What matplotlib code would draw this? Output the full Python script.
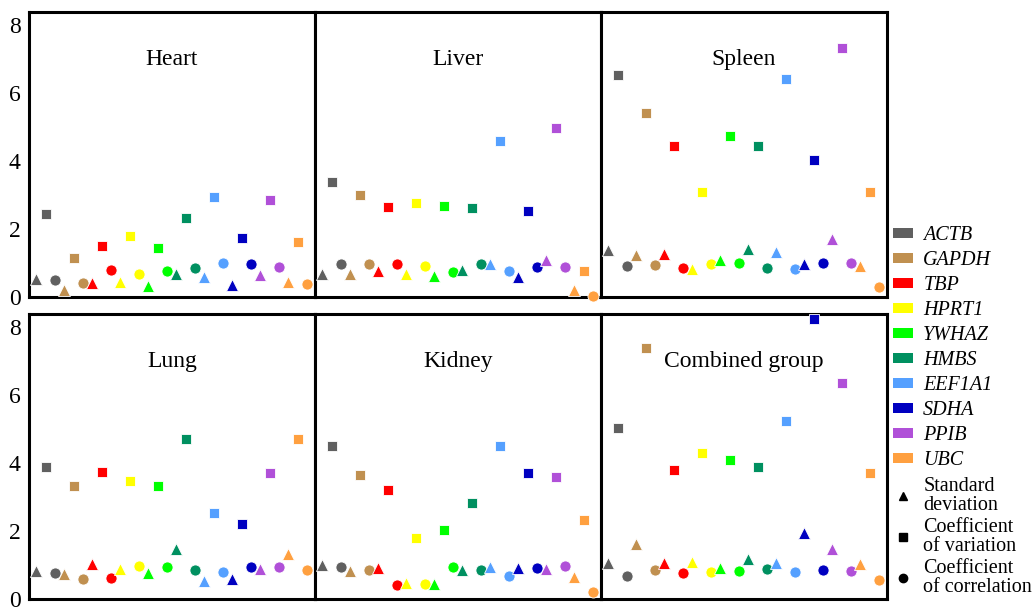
import matplotlib
matplotlib.use("Agg")
import matplotlib.pyplot as plt
from matplotlib.patches import Patch
from matplotlib.lines import Line2D
import numpy as np

plt.rcParams['font.family'] = ['Liberation Serif', 'DejaVu Serif']

genes = ["ACTB", "GAPDH", "TBP", "HPRT1", "YWHAZ", "HMBS", "EEF1A1", "SDHA", "PPIB", "UBC"]
colors = ["#606060", "#C09050", "#FF0000", "#FFFF00", "#00FF00",
          "#009060", "#55A0FF", "#0000C0", "#B050D8", "#FFA040"]
panels = ["Heart", "Liver", "Spleen", "Lung", "Kidney", "Combined group"]
stat_labels = ["Standard\ndeviation", "Coefficient\nof variation", "Coefficient\nof correlation"]

# Standard deviation (triangles)
sd = {
    "Heart":  [0.52, 0.21, 0.42, 0.44, 0.32, 0.67, 0.60, 0.36, 0.65, 0.43],
    "Liver":  [0.68, 0.68, 0.76, 0.67, 0.62, 0.78, 0.96, 0.58, 1.09, 0.21],
    "Spleen": [1.38, 1.24, 1.25, 0.82, 1.09, 1.40, 1.32, 0.98, 1.70, 0.92],
    "Lung":   [0.82, 0.73, 1.04, 0.88, 0.75, 1.46, 0.52, 0.58, 0.88, 1.33],
    "Kidney": [1.00, 0.83, 0.91, 0.48, 0.43, 0.86, 0.94, 0.90, 0.87, 0.65],
    "Combined group": [1.06, 1.63, 1.05, 1.10, 0.91, 1.17, 1.07, 1.95, 1.46, 1.04],
}
# Coefficient of variation (squares)
cv = {
    "Heart":  [2.43, 1.14, 1.50, 1.79, 1.43, 2.31, 2.95, 1.74, 2.84, 1.61],
    "Liver":  [3.39, 3.00, 2.65, 2.77, 2.69, 2.61, 4.59, 2.52, 4.98, 0.75],
    "Spleen": [6.54, 5.40, 4.45, 3.09, 4.73, 4.45, 6.42, 4.02, 7.32, 3.08],
    "Lung":   [3.89, 3.32, 3.73, 3.47, 3.32, 4.71, 2.52, 2.21, 3.70, 4.70],
    "Kidney": [4.49, 3.66, 3.21, 1.80, 2.03, 2.81, 4.51, 3.70, 3.59, 2.33],
    "Combined group": [5.03, 7.37, 3.79, 4.30, 4.09, 3.88, 5.22, 8.24, 6.34, 3.71],
}
# Coefficient of correlation (circles)
cc = {
    "Heart":  [0.51, 0.41, 0.78, 0.69, 0.75, 0.85, 1.00, 0.97, 0.87, 0.37],
    "Liver":  [0.97, 0.97, 0.96, 0.90, 0.73, 0.97, 0.76, 0.89, 0.87, 0.03],
    "Spleen": [0.92, 0.95, 0.85, 0.98, 1.00, 0.85, 0.83, 0.99, 1.01, 0.29],
    "Lung":   [0.75, 0.60, 0.63, 0.98, 0.95, 0.86, 0.78, 0.94, 0.93, 0.86],
    "Kidney": [0.94, 0.84, 0.41, 0.43, 0.93, 0.84, 0.68, 0.92, 0.97, 0.22],
    "Combined group": [0.67, 0.86, 0.75, 0.78, 0.82, 0.87, 0.79, 0.86, 0.82, 0.55],
}
yticks = [0, 2, 4, 6, 8]

W, H = 1032, 610
fig = plt.figure(figsize=(W / 100, H / 100), dpi=100)

lefts = [29, 315, 601]
width = 286
rows = [(12, 297), (314, 599)]

for idx, name in enumerate(panels):
    r, c = divmod(idx, 3)
    top, bot = rows[r]
    ax = fig.add_axes([lefts[c] / W, 1 - bot / H, width / W, (bot - top) / H])
    for i, g in enumerate(genes):
        kw = dict(color=colors[i], markeredgecolor="white", markeredgewidth=0.6,
                  linestyle="none", clip_on=False, zorder=3)
        ax.plot([3 * i], [sd[name][i]], marker="^", markersize=8, **kw)
        ax.plot([3 * i + 1], [cv[name][i]], marker="s", markersize=7.5, **kw)
        ax.plot([3 * i + 2], [cc[name][i]], marker="o", markersize=8, **kw)
    ax.set_xlim(-0.8, 29.85)
    ax.set_ylim(0, 8.38)
    ax.set_xticks([])
    if c == 0:
        ax.set_yticks(yticks)
        ax.set_yticklabels([str(v) for v in yticks], fontsize=17)
        ax.tick_params(axis="y", length=0, pad=6)
    else:
        ax.set_yticks([])
    for s in ax.spines.values():
        s.set_linewidth(2.2)
        s.set_color("black")
    ax.text(0.5, 0.835, name, transform=ax.transAxes, ha="center", va="center",
            fontsize=17)

gene_handles = [Patch(facecolor=col, edgecolor="none") for col in colors]
leg1 = fig.legend(gene_handles, genes, loc="upper left",
                  bbox_to_anchor=(893 / W, 1 - 226 / H),
                  frameon=False, fontsize=14.5, handlelength=1.0, handleheight=0.35,
                  handletextpad=0.5, labelspacing=0.30, borderaxespad=0, borderpad=0)
for t in leg1.get_texts():
    t.set_style("italic")

stat_handles = [Line2D([], [], marker="^", color="black", linestyle="none", markersize=6),
                Line2D([], [], marker="s", color="black", linestyle="none", markersize=6),
                Line2D([], [], marker="o", color="black", linestyle="none", markersize=6)]
leg2 = fig.legend(stat_handles, stat_labels, loc="upper left",
                  bbox_to_anchor=(893 / W, 1 - 477 / H),
                  frameon=False, fontsize=14.5, handlelength=1.0,
                  handletextpad=0.5, labelspacing=0.16, borderaxespad=0, borderpad=0)
for t in leg2.get_texts():
    t.set_linespacing(1.0)

fig.savefig("out.png", dpi=100)
